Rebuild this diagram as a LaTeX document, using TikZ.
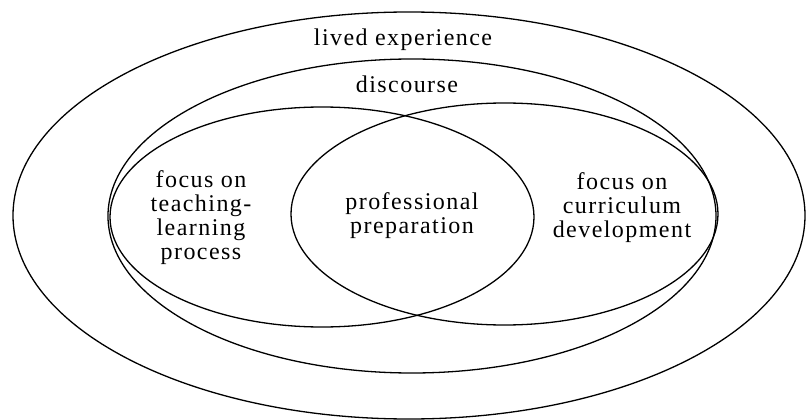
\documentclass[tikz,border=0pt]{standalone}
\usepackage{fontspec}
\setmainfont{Liberation Serif}[LetterSpace=6]
\begin{document}
\begin{tikzpicture}[x=1pt,y=-1pt,
  ring/.style={line width=1.3pt,black},
  lbl/.style={align=center,font=\fontsize{24}{24}\selectfont,inner sep=0pt}]
\useasboundingbox (0,0) rectangle (807,420);
% outer: lived experience
\draw[ring] (409,215.5) ellipse [x radius=396pt, y radius=203.5pt];
% discourse
\draw[ring] (412,216) ellipse [x radius=304pt, y radius=157pt];
% left venn
\draw[ring] (322,217) ellipse [x radius=212pt, y radius=110pt];
% right venn
\draw[ring] (504.5,214) ellipse [x radius=213.5pt, y radius=111pt];
\node[lbl] (lived) at (403,40) {lived experience};
\node[lbl] (disc) at (407,84) {discourse};
\node[lbl] (left) at (201,218) {focus on\\teaching-\\learning\\process};
\node[lbl] (mid) at (412,216) {professional\\preparation};
\node[lbl] (right) at (622,208) {focus on\\curriculum\\development};
\end{tikzpicture}
\end{document}
